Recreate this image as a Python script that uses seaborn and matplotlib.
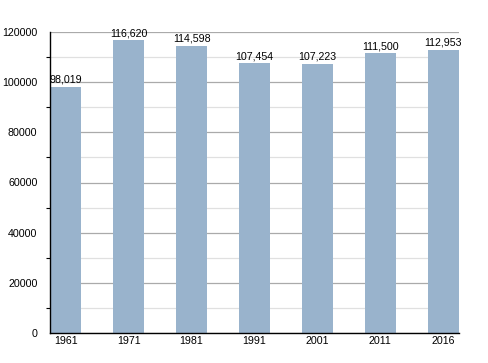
import matplotlib
matplotlib.use("Agg")
import matplotlib.pyplot as plt
import seaborn as sns
import pandas as pd
from matplotlib.ticker import MultipleLocator

years = ["1961", "1971", "1981", "1991", "2001", "2011", "2016"]
population = [98019, 116620, 114598, 107454, 107223, 111500, 112953]

sns.set_theme(style="white")
plt.rcParams['font.family'] = ['Liberation Sans', 'DejaVu Sans']

df = pd.DataFrame({"year": years, "pop": population})

fig = plt.figure(figsize=(4.88, 3.63), dpi=100)
ax = fig.add_axes([50/488, 30/363, 409/488, 301/363])

sns.barplot(data=df, x="year", y="pop", color="#99B3CC", saturation=1, width=0.5,
            linewidth=0, edgecolor="none", ax=ax, zorder=3)

ax.set_xlim(-0.25, 6.25)
ax.set_ylim(0, 120000)
ax.yaxis.set_major_locator(MultipleLocator(20000))
ax.yaxis.set_minor_locator(MultipleLocator(10000))
ax.grid(which="major", axis="y", color="#aaaaaa", linewidth=0.9, zorder=0)
ax.grid(which="minor", axis="y", color="#e0e0e0", linewidth=0.9, zorder=0)
ax.set_axisbelow(True)

for s in ["top", "right"]:
    ax.spines[s].set_visible(False)
for s in ["left", "bottom"]:
    ax.spines[s].set_color("black")
    ax.spines[s].set_linewidth(1.0)
    ax.spines[s].set_zorder(5)

ax.tick_params(axis="y", which="major", length=0, labelsize=7.7, pad=9, colors="black")
ax.tick_params(axis="y", which="minor", left=True, length=3, width=0.8, color="black")
ax.tick_params(axis="x", length=0, labelsize=7.7, pad=2, colors="black")
ax.set_xlabel("")
ax.set_ylabel("")

for i, v in enumerate(population):
    ax.text(i, v + 900, f"{v:,}", ha="center", va="bottom", fontsize=7.7, color="black")

fig.savefig("out.png", dpi=100)
